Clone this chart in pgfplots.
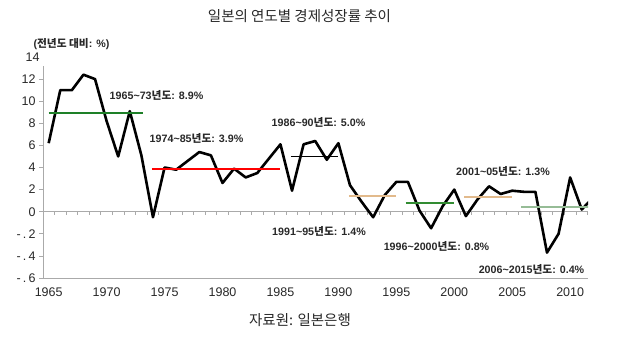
\documentclass[border=0pt]{standalone}
\usepackage{pgfplots}
\pgfplotsset{compat=1.18}
\usepackage{fontspec}
\setmainfont{Liberation Sans}
\newfontfamily\kr{Noto Sans CJK KR}
\definecolor{avgA}{RGB}{30,128,40}
\definecolor{avgB}{RGB}{255,0,0}
\definecolor{avgD}{RGB}{226,186,140}
\definecolor{avgE}{RGB}{50,140,50}
\definecolor{avgG}{RGB}{150,188,150}
\definecolor{axgray}{RGB}{170,170,170}
\definecolor{txt}{RGB}{40,40,40}
\newcommand{\tl}{{\char"7E}}
\begin{document}
\begin{tikzpicture}
\path[use as bounding box] (0pt,0pt) rectangle (628pt,340pt);
\begin{axis}[
  at={(43pt,62pt)}, anchor=south west,
  scale only axis, width=545pt, height=221pt,
  xmin=1964.51, xmax=2011.54, ymin=-6, ymax=14,
  axis x line*=bottom, axis y line*=left,
  x axis line style={axgray, line width=1pt},
  y axis line style={draw=none},
  xtick={1965,1970,...,2010},
  xtick style={draw=none},
  xticklabel style={font=\fontsize{12.5}{14}\selectfont, text=txt, yshift=-2pt,
     /pgf/number format/1000 sep={}, /pgf/number format/assume math mode=true},
  ytick={-6,-4,...,12},
  yticklabels={-\,.\,6,-\,.\,4,-\,.\,2,0,2,4,6,8,10,12},
  extra y ticks={14}, extra y tick labels={14},
  extra y tick style={major tick length=0pt},
  yticklabel style={font=\fontsize{12.5}{14}\selectfont, text=txt},
  tick align=outside, major tick length=4pt,
  ytick style={axgray, line width=0.8pt},
  clip=true,
]
\draw[axgray, line width=0.9pt] (axis cs:1964.51,-6) -- (axis cs:1964.51,13.2);
\draw[axgray, line width=0.9pt] (axis cs:1964.51,0) -- (axis cs:2011.54,0);
\pgfplotsinvokeforeach{1965,...,2011}{
  \draw[axgray, line width=0.7pt] (axis cs:#1.5,0) -- ++(0pt,-3pt);
}
\addplot[black, line width=2.6pt, line join=round] coordinates {
(1965,6.2) (1966,11.0) (1967,11.0) (1968,12.4) (1969,12.0) (1970,8.2)
(1971,5.0) (1972,9.1) (1973,5.1) (1974,-0.5) (1975,4.0) (1976,3.8)
(1977,4.6) (1978,5.4) (1979,5.1) (1980,2.6) (1981,3.9) (1982,3.1)
(1983,3.5) (1984,4.8) (1985,6.1) (1986,1.9) (1987,6.1) (1988,6.4)
(1989,4.7) (1990,6.2) (1991,2.4) (1992,0.9) (1993,-0.5) (1994,1.5)
(1995,2.7) (1996,2.7) (1997,0.1) (1998,-1.5) (1999,0.5) (2000,2.0)
(2001,-0.4) (2002,1.1) (2003,2.3) (2004,1.6) (2005,1.9) (2006,1.8)
(2007,1.8) (2008,-3.7) (2009,-2.0) (2010,3.1) (2011,0.2) (2012,1.3)
};
\addplot[avgA, line width=2pt] coordinates {(1965,8.9) (1973.1,8.9)};
\addplot[avgB, line width=2pt] coordinates {(1973.9,3.9) (1985,3.9)};
\addplot[black, line width=1.5pt] coordinates {(1985.9,5.0) (1990,5.0)};
\addplot[avgD, line width=2pt] coordinates {(1990.9,1.4) (1995,1.4)};
\addplot[avgE, line width=2pt] coordinates {(1995.8,0.8) (2000,0.8)};
\addplot[avgD, line width=2pt] coordinates {(2000.85,1.3) (2004.95,1.3)};
\addplot[avgG, line width=2pt] coordinates {(2005.8,0.4) (2015,0.4)};
\end{axis}
\begin{scope}[every node/.style={font=\fontsize{10.7}{12}\selectfont\bfseries, text=txt, inner sep=0pt}]
\node at (156.5pt,245pt) {1965\tl73{\kr 년도}: 8.9\%};
\node at (196.5pt,202pt) {1974\tl85{\kr 년도}: 3.9\%};
\node at (318.5pt,217.5pt) {1986\tl90{\kr 년도}: 5.0\%};
\node at (503pt,168.5pt) {2001\tl05{\kr 년도}: 1.3\%};
\node at (319pt,109pt) {1991\tl95{\kr 년도}: 1.4\%};
\node at (436.5pt,94pt) {1996\tl2000{\kr 년도}: 0.8\%};
\node at (531.5pt,71pt) {2006\tl2015{\kr 년도}: 0.4\%};
\node at (71.5pt,296pt) {({\kr 전년도 대비}: \%)};
\end{scope}
\node[font=\kr\fontsize{14.5}{16}\selectfont, text=txt, inner sep=0pt] at (299.5pt,324pt) {일본의 연도별 경제성장률 추이};
\node[font=\kr\fontsize{14.5}{16}\selectfont, text=txt, inner sep=0pt] at (300pt,20pt) {자료원: 일본은행};
\end{tikzpicture}
\end{document}
